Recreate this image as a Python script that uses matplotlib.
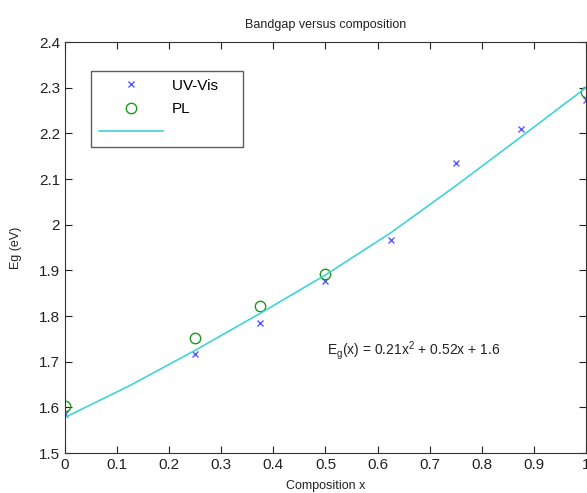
import matplotlib
matplotlib.use('Agg')
import matplotlib.pyplot as plt

# measured points
comp_uv = [0.0, 0.25, 0.375, 0.5, 0.625, 0.75, 0.875, 1.0]
eg_uv = [1.585, 1.717, 1.785, 1.876, 1.966, 2.136, 2.209, 2.273]
comp_pl = [0.0, 0.25, 0.375, 0.5, 1.0]
eg_pl = [1.603, 1.751, 1.821, 1.893, 2.290]

# fit curve
comp_fit = [0.0, 0.125, 0.25, 0.375, 0.5, 0.625, 0.75, 0.875, 1.0]
eg_fit = [1.578, 1.648, 1.725, 1.806, 1.890, 1.982, 2.085, 2.192, 2.300]

xticks = [0, 0.1, 0.2, 0.3, 0.4, 0.5, 0.6, 0.7, 0.8, 0.9, 1]
xticklabels = ['0', '0.1', '0.2', '0.3', '0.4', '0.5', '0.6', '0.7', '0.8', '0.9', '1']
yticks = [1.5, 1.6, 1.7, 1.8, 1.9, 2.0, 2.1, 2.2, 2.3, 2.4]
yticklabels = ['1.5', '1.6', '1.7', '1.8', '1.9', '2', '2.1', '2.2', '2.3', '2.4']

plt.rcParams['font.family'] = ['Liberation Sans', 'DejaVu Sans']

fig = plt.figure(figsize=(5.87, 4.93), dpi=100)
ax = fig.add_axes([0.1107, 0.0811, 0.8876, 0.8337])

ax.plot(comp_uv, eg_uv, 'x', color='#5a5aff', markersize=5, markeredgewidth=1.0, label='UV-Vis    ')
ax.plot(comp_pl, eg_pl, 'o', color='#1a9a1a', markerfacecolor='none', markersize=7.5,
        markeredgewidth=1.0, label='PL')
ax.plot(comp_fit, eg_fit, '-', color='#40d4d4', linewidth=1.2, label=' ')

ax.set_xlim(0, 1)
ax.set_ylim(1.5, 2.4)
ax.set_xticks(xticks)
ax.set_xticklabels(xticklabels)
ax.set_yticks(yticks)
ax.set_yticklabels(yticklabels)
ax.tick_params(direction='in', top=True, right=True, labelsize=11, colors='#222222', length=5)
for s in ax.spines.values():
    s.set_color('#333333')

ax.set_title('Bandgap versus composition', fontsize=9, color='#222222', pad=10)
ax.set_xlabel('Composition x', fontsize=9, color='#222222', labelpad=6)
ax.set_ylabel('Eg (eV)', fontsize=9, color='#222222', labelpad=12)

ax.text(0.502, 1.725, r'E$_\mathregular{g}$(x) = 0.21x$^\mathregular{2}$ + 0.52x + 1.6',
        fontsize=10, color='#222222', va='center')

leg = ax.legend(loc='upper left', bbox_to_anchor=(0.05, 0.929), fontsize=11, frameon=True,
                fancybox=False, edgecolor='#333333', borderpad=0.5, handlelength=4.2,
                labelspacing=0.6, handletextpad=0.6, borderaxespad=0)
leg.get_frame().set_linewidth(1.0)

fig.savefig('out.png', dpi=100)
